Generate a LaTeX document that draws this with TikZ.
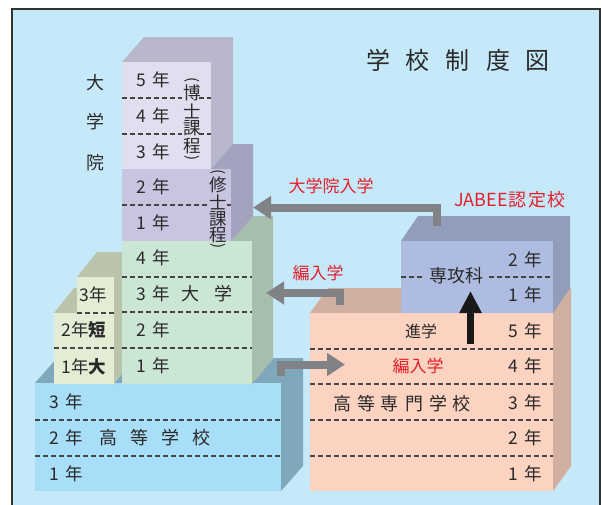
\documentclass[tikz,border=0pt]{standalone}
\usepackage{fontspec}
\setmainfont{Noto Sans CJK JP}
\usetikzlibrary{arrows.meta}
\definecolor{bg}{HTML}{C6E9F9}
\definecolor{frameln}{HTML}{333333}
\definecolor{doF}{HTML}{E0DFEF}\definecolor{doS}{HTML}{B8B7CB}
\definecolor{maF}{HTML}{C8C5E1}\definecolor{maS}{HTML}{A4A3BF}
\definecolor{unF}{HTML}{CCE6D5}\definecolor{unS}{HTML}{A8BEAC}
\definecolor{scF}{HTML}{E3EDD5}\definecolor{scS}{HTML}{B9C4AB}
\definecolor{hsF}{HTML}{A8DEF8}\definecolor{hsS}{HTML}{7FA8BC}
\definecolor{koF}{HTML}{FCD3C0}\definecolor{koS}{HTML}{D0AEA0}
\definecolor{seF}{HTML}{ADBCE0}\definecolor{seS}{HTML}{919DBB}
\definecolor{arrowgray}{HTML}{818286}
\definecolor{redtext}{HTML}{E4202C}
\definecolor{ink}{HTML}{2A2A2A}
\definecolor{dashc}{HTML}{454545}
\newcommand\blk[7]{%
  \fill[#7] (#1,#2) -- (#1+#5,#2-25) -- (#3+#5,#2-25) -- (#3+#5,#4-25) -- (#3,#4) -- cycle;
  \fill[#6] (#1,#2) rectangle (#3,#4);}
\tikzset{
  txt/.style={font=\fontsize{17.5}{17.5}\selectfont, text=ink, inner sep=0pt, anchor=center},
  bigtxt/.style={font=\fontsize{18}{18}\selectfont, text=ink, inner sep=0pt, anchor=center},
  redtxt/.style={font=\fontsize{17}{17}\selectfont, text=redtext, inner sep=0pt, anchor=center},
  smalltxt/.style={font=\fontsize{16}{16}\selectfont, text=ink, inner sep=0pt, anchor=center},
  paren/.style={font=\fontsize{15}{15}\selectfont, text=ink, inner sep=0pt, anchor=center, rotate=-90},
  div/.style={draw=dashc, line width=1.1pt, dash pattern=on 5pt off 3pt},
  garrow/.style={draw=arrowgray, line width=8pt, -{Triangle[length=18pt,width=22pt]}},
  barrow/.style={draw=black!90, line width=7pt, -{Triangle[length=22pt,width=21pt]}},
}
\begin{document}
\begin{tikzpicture}[x=1pt,y=-1pt]
\useasboundingbox (0,0) rectangle (601,504);
\fill[white] (0,0) rectangle (601,520);
\fill[bg] (12,9) rectangle (600,520);
\draw[frameln, line width=1.2pt] (12,520) -- (12,9) -- (600,9) -- (600,520);

% blocks
\blk{35}{383}{281}{491}{22}{hsF}{hsS}
\blk{54}{313}{114}{384}{20}{scF}{scS}
\blk{77}{277}{114}{313}{20}{scF}{scS}
\blk{122}{241}{252}{384}{21}{unF}{unS}
\blk{122}{169}{231}{241}{22}{maF}{maS}
\blk{122}{62}{211}{169}{22}{doF}{doS}
\blk{310}{313}{553}{491}{18}{koF}{koS}
\blk{401}{241}{553}{313}{17}{seF}{seS}

% dividers
\draw[div] (122,98) -- (182,98);  \draw[div] (199,98) -- (211,98);
\draw[div] (122,134) -- (182,134); \draw[div] (199,134) -- (211,134);
\draw[div] (122,205) -- (208,205); \draw[div] (227,205) -- (231,205);
\foreach \yy in {277,312,348} {\draw[div] (122,\yy) -- (252,\yy);}
\draw[div] (77,313) -- (114,313);
\draw[div] (54,348) -- (114,348);
\foreach \yy in {420,456} {\draw[div] (35,\yy) -- (281,\yy);}
\foreach \yy in {349,384,420,456} {\draw[div] (310,\yy) -- (553,\yy);}
\draw[div] (401,277) -- (424,277); \draw[div] (489,277) -- (553,277);

% title
\node[txt, font=\fontsize{24}{24}\selectfont] (title) at (458,60) {学\hspace{16pt}校\hspace{16pt}制\hspace{16pt}度\hspace{16pt}図};

% graduate school
\node[bigtxt] (gs1) at (95,83) {大};
\node[bigtxt] (gs2) at (95,122) {学};
\node[bigtxt] (gs3) at (95,163) {院};
\node[txt] (d5) at (153,80) {5\hspace{2pt} 年};
\node[txt] (d4) at (153,116) {4\hspace{2pt} 年};
\node[txt] (d3) at (153,152) {3\hspace{2pt} 年};
\node[txt] (m2) at (153,187) {2\hspace{2pt} 年};
\node[txt] (m1) at (153,223) {1\hspace{2pt} 年};
\node[paren] (dp1) at (192,80) {(};
\node[txt] (dc1) at (192,93) {博};
\node[txt] (dc2) at (192,111) {士};
\node[txt] (dc3) at (192,128) {課};
\node[txt] (dc4) at (192,146) {程};
\node[paren] (dp2) at (192,158) {)};
\node[paren] (mp1) at (218,172) {(};
\node[txt] (mc1) at (218,185) {修};
\node[txt] (mc2) at (218,202) {士};
\node[txt] (mc3) at (218,219) {課};
\node[txt] (mc4) at (218,235) {程};
\node[paren] (mp2) at (218,246) {)};

% university
\node[txt] (u4) at (153,258) {4\hspace{2pt} 年};
\node[txt] (u3) at (153,294) {3\hspace{2pt} 年};
\node[bigtxt] (uname) at (207,294) {大\hspace{15pt}学};
\node[txt] (u2) at (153,330) {2\hspace{2pt} 年};
\node[txt] (u1) at (153,366) {1\hspace{2pt} 年};

% junior college
\node[txt] (j3) at (93,295) {3年};
\node[txt] (j2) at (84,330) {2年\textbf{短}};
\node[txt] (j1) at (84,367) {1年\textbf{大}};

% high school
\node[txt] (h3) at (66,402) {3\hspace{2pt} 年};
\node[txt] (h2) at (66,438) {2\hspace{2pt} 年};
\node[bigtxt] (hname) at (155,438) {高\hspace{13pt}等\hspace{13pt}学\hspace{13pt}校};
\node[txt] (h1) at (66,474) {1\hspace{2pt} 年};

% kosen
\node[txt] (k5) at (525,331) {5\hspace{2pt} 年};
\node[txt] (k4) at (525,366) {4\hspace{2pt} 年};
\node[txt] (k3) at (525,403) {3\hspace{2pt} 年};
\node[txt] (k2) at (525,438) {2\hspace{2pt} 年};
\node[txt] (k1) at (525,474) {1\hspace{2pt} 年};
\node[bigtxt] (kname) at (402,404) {高\hspace{6pt}等\hspace{6pt}専\hspace{6pt}門\hspace{6pt}学\hspace{6pt}校};
\node[smalltxt] (shingaku) at (421,331) {進学};
\node[redtxt] (hennyu2) at (418,366) {編入学};

% advanced course
\node[txt] (s2) at (525,260) {2\hspace{2pt} 年};
\node[txt] (s1) at (525,295) {1\hspace{2pt} 年};
\node[bigtxt] (sname) at (456,276) {専攻科};

% red labels
\node[redtxt] (gradin) at (331,186) {大学院入学};
\node[redtxt, font=\fontsize{18}{18}\selectfont] (jabee) at (510,200) {JABEE\hspace{1pt}認\hspace{1.5pt}定\hspace{1.5pt}校};
\node[redtxt] (hennyu1) at (318,273) {編入学};

% arrows
\coordinate (a1s) at (437,226);
\coordinate (a1e) at (253,207.5);
\coordinate (a2s) at (340,305);
\coordinate (a2e) at (266,293);
\coordinate (a3s) at (281,376);
\coordinate (a3e) at (345,364.5);
\coordinate (a4s) at (470.5,344);
\coordinate (a4e) at (470.5,291);
\draw[garrow] (a1s) |- (a1e);
\draw[garrow] (a2s) |- (a2e);
\draw[garrow] (a3s) |- (a3e);
\draw[barrow] (a4s) -- (a4e);
\end{tikzpicture}
\end{document}
